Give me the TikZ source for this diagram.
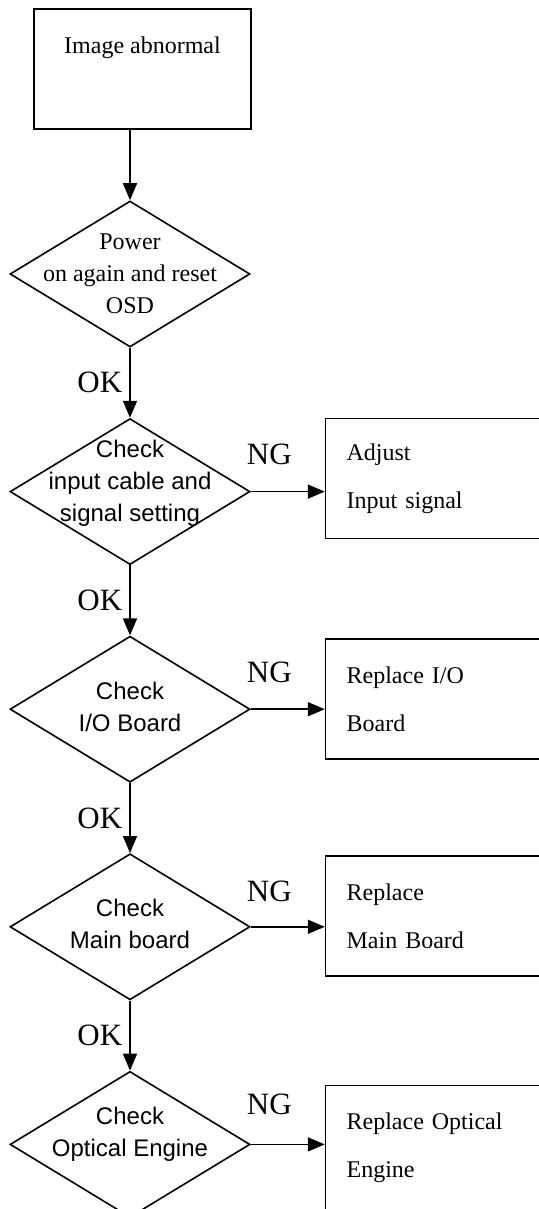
\documentclass[tikz,border=0pt]{standalone}
\usepackage{fontspec}
\setmainfont{Liberation Serif}
\setsansfont{Liberation Sans}
\usetikzlibrary{positioning,arrows.meta,shapes.geometric}

\begin{document}
\begin{tikzpicture}[>={Triangle[length=8.5pt,width=7pt]}, line width=0.8pt,
  node distance=35pt and 37pt,
  startbox/.style={draw, minimum width=108.5pt, minimum height=60pt, inner sep=0pt},
  decision/.style={draw, diamond, minimum width=120pt, minimum height=73pt, inner sep=0pt},
  dtext/.style={font=\sffamily\fontsize{12}{16}\selectfont, align=center, inner sep=0pt},
  stext/.style={font=\fontsize{12}{16}\selectfont, align=center, inner sep=0pt},
  fixbox/.style={draw, minimum height=60pt, text width=99pt, inner xsep=10.5pt,
                 align=left, font=\fontsize{12}{24}\selectfont},
  oklabel/.style={left=3.5pt, inner sep=0pt, font=\fontsize{15.5}{18}\selectfont},
  nglabel/.style={above=#1, inner sep=0pt, pos=0.25, font=\fontsize{15.5}{18}\selectfont},
  nglabel/.default=13pt]
  \useasboundingbox (0,0) rectangle (269.5pt,-604.5pt);
  \clip (0,0) rectangle (269.5pt,-604.5pt);

  % main chain
  \node (start) [startbox, label={[stext, yshift=10.75pt]center:Image abnormal}]
    at (71.25pt,-34.5pt) {};
  \node (power) [decision, label={[stext]center:{Power\\on again and reset\\OSD}}]
    at (65pt,-137pt) {};
  \node (cable) [decision, below=of power,
                 label={[dtext, yshift=4pt]center:{Check\\input cable and\\signal setting}}] {};
  \node (io) [decision, below=of cable,
              label={[dtext, yshift=1.25pt]center:{Check\\I/O Board}}] {};
  \node (mainb) [decision, below=of io,
                 label={[dtext, yshift=1.25pt]center:{Check\\Main board}}] {};
  \node (optic) [decision, below=of mainb,
                 label={[dtext, yshift=5pt]center:{Check\\Optical Engine}}] {};

  % repair actions
  \node (adjust) [fixbox, right=of cable, yshift=6.5pt] {Adjust\\Input signal};
  \node (fixio) [fixbox, right=of io, yshift=5pt] {Replace I/O\\Board};
  \node (fixmain) [fixbox, right=of mainb, yshift=5.5pt] {Replace\\Main Board};
  \node (fixoptic) [fixbox, right=of optic, yshift=-1.5pt, minimum height=62pt]
    {Replace Optical\\Engine};

  \draw[->] (start.south -| power) -- (power);
  \draw[->] (power) -- node[oklabel]{OK} (cable);
  \draw[->] (cable) -- node[oklabel]{OK} (io);
  \draw[->] (io) -- node[oklabel]{OK} (mainb);
  \draw[->] (mainb) -- node[oklabel]{OK} (optic);

  \draw[->] (cable.east) -- node[nglabel]{NG} (cable.east -| adjust.west);
  \draw[->] (io.east) -- node[nglabel=12.75pt]{NG} (io.east -| fixio.west);
  \draw[->] (mainb.east) -- node[nglabel=12pt]{NG} (mainb.east -| fixmain.west);
  \draw[->] (optic.east) -- node[nglabel=14.5pt]{NG} (optic.east -| fixoptic.west);
\end{tikzpicture}
\end{document}
